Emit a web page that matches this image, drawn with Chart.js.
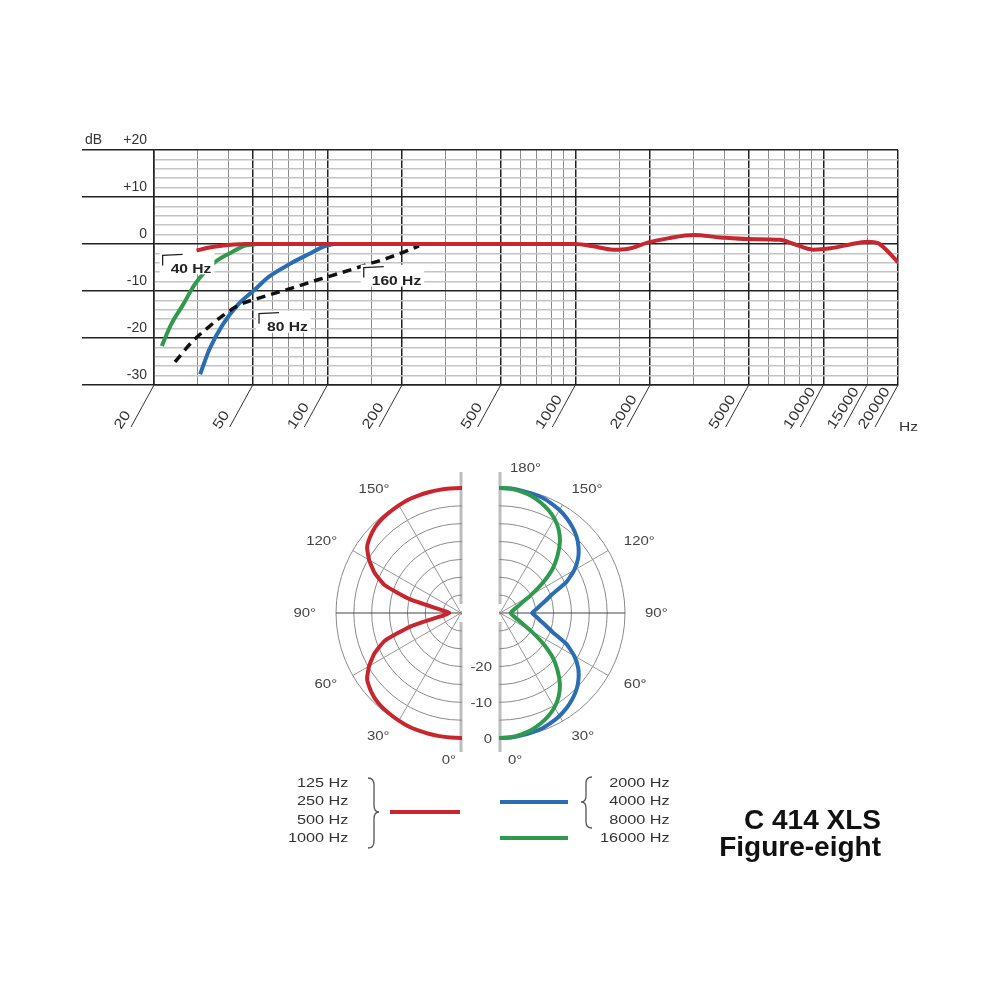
<!DOCTYPE html>
<html>
<head>
<meta charset="utf-8">
<script src="https://cdn.jsdelivr.net/npm/chart.js@4.4.0/dist/chart.umd.min.js"></script>
<style>
  body { margin: 0; background: #fff; width: 1000px; height: 1000px; position: relative; overflow: hidden;
         font-family: "Liberation Sans", Arial, sans-serif; }
  canvas, svg, .txt { position: absolute; }
  .legend { font-size: 13px; line-height: 18.3px; color: #333; white-space: nowrap; }
  .legend.left { text-align: right; transform: scaleX(1.25); transform-origin: right center; }
  .legend.right { text-align: right; transform: scaleX(1.25); transform-origin: right center; }
  .title { font-weight: bold; font-size: 28px; line-height: 27px; color: #111; text-align: right; white-space: nowrap; }
</style>
</head>
<body>
<canvas id="responseChart" width="1000" height="360" style="left:0;top:100px"></canvas>
<canvas id="polarLow" width="400" height="360" style="left:261px;top:433px"></canvas>
<canvas id="polarHigh" width="400" height="360" style="left:300px;top:433px"></canvas>

<svg width="1000" height="1000" style="left:0;top:0;pointer-events:none">
  <path d="M368,778 Q374,778 374,785 L374,805 Q374,812 379,812 Q374,812 374,819 L374,841 Q374,848 368,848" fill="none" stroke="#555" stroke-width="1.3"/>
  <path d="M592,777 Q586,777 586,783 L586,796 Q586,802 581,802 Q586,802 586,808 L586,822 Q586,828 592,828" fill="none" stroke="#555" stroke-width="1.3"/>
  <line x1="390" y1="812" x2="460" y2="812" stroke="#c8262f" stroke-width="4"/>
  <line x1="500" y1="802" x2="568" y2="802" stroke="#2a6db3" stroke-width="4"/>
  <line x1="500" y1="838" x2="568" y2="838" stroke="#2f9a4e" stroke-width="4"/>
</svg>
<div class="txt legend left" style="right:652px;top:774px">125 Hz<br>250 Hz<br>500 Hz<br>1000 Hz</div>
<div class="txt legend right" style="right:330px;top:774px">2000 Hz<br>4000 Hz<br>8000 Hz<br>16000 Hz</div>
<div class="txt title" style="right:119px;top:806px">C 414 XLS<br>Figure-eight</div>

<script>
// frequency response, Hz / dB
const redFreq = [29.7, 33, 37.5, 42, 47, 60, 100, 300, 1000, 1180, 1420, 1620, 1970, 2360, 3000, 3850, 4950, 6700, 7600, 9100, 10700, 12500, 15100, 16600, 18200, 20000];
const redDb = [-1.4, -0.8, -0.35, -0.1, 0, 0, 0, 0, 0, -0.5, -1.2, -1.05, 0.35, 1.2, 1.9, 1.4, 1.05, 0.9, 0, -1.2, -0.9, -0.2, 0.5, 0.2, -1.6, -3.9];
const greenFreq = [21.5, 23.4, 26.2, 29.3, 35, 41, 46.6, 52];
const greenDb = [-21.7, -17.2, -12.9, -8.5, -4, -1.8, -0.35, 0];
const blueFreq = [30.7, 33.4, 37.8, 44, 50.8, 58, 72, 86, 96, 106];
const blueDb = [-27.7, -22.5, -17.2, -12.7, -9.8, -7.0, -4.0, -1.9, -0.6, 0];
const cutFreq = [24.3, 28.5, 33, 38, 44, 53, 64, 77, 93, 114, 140, 177, 213, 234];
const cutDb = [-25.1, -20.8, -17.8, -15.2, -13, -11.5, -10.2, -8.9, -7.5, -6.1, -4.6, -2.9, -1.3, -0.4];

// axis
const gridFreqs = [20, 30, 40, 50, 60, 70, 80, 90, 100, 150, 200, 300, 400, 500, 600, 700, 800, 900, 1000, 1500,
  2000, 3000, 4000, 5000, 6000, 7000, 8000, 9000, 10000, 15000, 20000];
const majorFreqs = [20, 50, 100, 200, 500, 1000, 2000, 5000, 10000, 20000];
const hzLabels = [20, 50, 100, 200, 500, 1000, 2000, 5000, 10000, 15000, 20000];

// polar response, dB at 0..90 degrees (pattern is symmetric about 90)
const polarAngles = [0, 5, 10, 15, 20, 25, 30, 35, 40, 45, 50, 55, 60, 65, 70, 75, 80, 85, 90];
const polarLowBand = [0, 0, 0, 0, 0, 0, -0.2, -0.4, -0.6, -1.0, -1.8, -2.9, -5.3, -8.3, -12.3, -20.3, -28.7, -30.9, -31.7];
const polarMidHigh = [0, 0, -0.2, -0.4, -0.6, -1.1, -1.7, -2.5, -3.5, -4.7, -6.3, -8.3, -11, -14.5, -19.3, -21.8, -23.7, -25, -26];
const polarTop = [0, -0.1, -0.5, -1.1, -2, -3.1, -4.5, -6.4, -8.9, -12.2, -15.8, -20.5, -25, -28.2, -29.8, -30.8, -31.4, -31.8, -32];
const directionLabels = [30, 60, 90, 120, 150];
const ringLabels = [-20, -10, 0];

const RED = '#c8262f', BLUE = '#2a6db3', GREEN = '#2f9a4e';
const FONT = '"Liberation Sans", Arial, sans-serif';
Chart.defaults.font.family = FONT;
Chart.defaults.color = '#333';

const cutoffNotes = [
  { text: '40 Hz', freq: 28.2, db: -5.4 },
  { text: '80 Hz', freq: 69, db: -17.8 },
  { text: '160 Hz', freq: 190, db: -8.0 },
];

function toPoints(xs, ys) {
  return xs.map((f, i) => ({ x: f, y: ys[i] }));
}

function stretchText(ctx, text, x, y, sx, align) {
  ctx.save();
  ctx.translate(x, y);
  ctx.scale(sx, 1);
  ctx.textAlign = align;
  ctx.fillText(text, 0, 0);
  ctx.restore();
}

const responseDecor = {
  id: 'responseDecor',
  afterDatasetsDraw(chart) {
    const { ctx, scales: { x, y } } = chart;
    ctx.save();
    ctx.font = 'bold 13px ' + FONT;
    ctx.textBaseline = 'middle';
    cutoffNotes.forEach(n => {
      const cx = x.getPixelForValue(n.freq), cy = y.getPixelForValue(n.db);
      const w = ctx.measureText(n.text).width * 1.2;
      const left = cx - w / 2, top = cy - 5;
      ctx.fillStyle = '#fff';
      ctx.fillRect(left - 11, top - 12, w + 14, 22);
      ctx.strokeStyle = '#222';
      ctx.lineWidth = 1.3;
      ctx.beginPath();
      ctx.moveTo(left - 8, top + 1);
      ctx.lineTo(left - 8, top - 9);
      ctx.lineTo(left + 12, top - 10);
      ctx.stroke();
      ctx.fillStyle = '#222';
      stretchText(ctx, n.text, left, cy, 1.2, 'left');
    });
    ctx.restore();
  },
  afterDraw(chart) {
    const { ctx, scales: { x, y } } = chart;
    ctx.save();
    ctx.strokeStyle = '#333';
    ctx.fillStyle = '#333';
    ctx.lineWidth = 1;
    ctx.font = '14px ' + FONT;
    ctx.textBaseline = 'alphabetic';
    hzLabels.forEach(f => {
      const px = x.getPixelForValue(f);
      ctx.beginPath();
      ctx.moveTo(px, y.bottom);
      ctx.lineTo(px - 23, y.bottom + 42);
      ctx.stroke();
      ctx.save();
      ctx.translate(px - 33, y.bottom + 45);
      ctx.rotate(-57 * Math.PI / 180);
      ctx.scale(1.2, 1);
      ctx.textAlign = 'left';
      ctx.fillText(String(f), 0, 0);
      ctx.restore();
    });
    ctx.font = '13px ' + FONT;
    stretchText(ctx, 'Hz', x.right + 1, y.bottom + 46, 1.2, 'left');
    ctx.font = '14px ' + FONT;
    ctx.textBaseline = 'middle';
    stretchText(ctx, 'dB', 85, y.getPixelForValue(20) - 10, 1, 'left');
    ctx.restore();
  }
};

new Chart(document.getElementById('responseChart'), {
  type: 'scatter',
  data: {
    datasets: [
      { label: 'Linear', data: toPoints(redFreq, redDb), borderColor: RED, borderWidth: 4 },
      { label: '160 Hz', data: toPoints(cutFreq, cutDb), borderColor: '#111', borderWidth: 3.5, borderDash: [9, 6] },
      { label: '80 Hz', data: toPoints(blueFreq, blueDb), borderColor: BLUE, borderWidth: 4 },
      { label: '40 Hz', data: toPoints(greenFreq, greenDb), borderColor: GREEN, borderWidth: 4 },
    ].map(d => Object.assign(d, { showLine: true, pointRadius: 0, cubicInterpolationMode: 'monotone' })),
  },
  options: {
    responsive: false,
    animation: false,
    layout: { padding: { top: 50, right: 102, left: 0, bottom: 0 } },
    plugins: { legend: { display: false }, tooltip: { enabled: false } },
    scales: {
      x: {
        type: 'logarithmic',
        min: 20,
        max: 20000,
        afterBuildTicks: ax => { ax.ticks = gridFreqs.map(v => ({ value: v })); },
        afterFit: ax => { ax.height = 75; },
        ticks: { display: false, autoSkip: false },
        grid: {
          drawTicks: false,
          color: c => majorFreqs.includes(c.tick.value) ? '#222' : '#8c8c8c',
          lineWidth: c => majorFreqs.includes(c.tick.value) ? 1.5 : 1,
        },
        border: { color: '#222', width: 1.5 },
      },
      y: {
        min: -30,
        max: 20,
        afterFit: ax => { ax.width = 154; },
        ticks: {
          stepSize: 2,
          autoSkip: false,
          labelOffset: -10,
          padding: -65,
          font: { size: 14 },
          color: '#333',
          callback: v => v % 10 === 0 ? (v > 0 ? '+' + v : String(v)) : '',
        },
        grid: {
          tickLength: 72,
          color: c => c.tick.value % 10 === 0 ? '#222' : '#c4c4c4',
          lineWidth: 1.5,
          tickColor: c => c.tick.value % 10 === 0 ? '#222' : 'rgba(0,0,0,0)',
        },
        border: { color: '#222', width: 1.5 },
      },
    },
  },
  plugins: [responseDecor],
});

// polar halves
const stepDeg = 5;
const turnLabels = Array.from({ length: 360 / stepDeg }, (_, i) => Math.abs(180 - i * stepDeg) + '°');

function fullTurn(half) {
  return turnLabels.map((_, i) => {
    let a = Math.abs(180 - i * stepDeg);
    if (a > 90) a = 180 - a;
    return half[polarAngles.indexOf(a)];
  });
}

function polarDecor(side) {
  return {
    id: 'polarDecor',
    beforeDraw(chart) {
      const r = chart.scales.r, ctx = chart.ctx, R = r.drawingArea;
      ctx.save();
      ctx.strokeStyle = '#bdbdbd';
      ctx.lineWidth = 3;
      ctx.beginPath();
      ctx.moveTo(r.xCenter, r.yCenter - R - 16);
      ctx.lineTo(r.xCenter, r.yCenter - 9);
      ctx.moveTo(r.xCenter, r.yCenter + 9);
      ctx.lineTo(r.xCenter, r.yCenter + R + 14);
      ctx.stroke();
      ctx.restore();
      ctx.save();
      ctx.beginPath();
      if (side < 0) ctx.rect(0, 0, r.xCenter + 1, chart.height);
      else ctx.rect(r.xCenter - 1, 0, chart.width - r.xCenter + 1, chart.height);
      ctx.clip();
    },
    afterDatasetsDraw(chart) {
      chart.ctx.restore();
    },
    afterDraw(chart) {
      const r = chart.scales.r, ctx = chart.ctx, R = r.drawingArea;
      ctx.save();
      ctx.fillStyle = '#444';
      ctx.font = '13px ' + FONT;
      ctx.textBaseline = 'middle';
      directionLabels.forEach(a => {
        const idx = side < 0 ? (180 + a) / stepDeg : (180 - a) / stepDeg;
        const p = r.getPointPosition(idx, R + (a === 90 ? 20 : 18));
        stretchText(ctx, a + '°', p.x, p.y, 1.15, side < 0 ? 'right' : 'left');
      });
      if (side < 0) {
        stretchText(ctx, '0°', r.xCenter - 5, r.yCenter + R + 22, 1.15, 'right');
      } else {
        stretchText(ctx, '0°', r.xCenter + 8, r.yCenter + R + 22, 1.15, 'left');
        stretchText(ctx, '180°', r.xCenter + 10, r.yCenter - R - 20, 1.15, 'left');
        ringLabels.forEach(v => {
          const d = r.getDistanceFromCenterForValue(v);
          stretchText(ctx, String(v), r.xCenter - 8, r.yCenter + d + 1, 1.15, 'right');
        });
      }
      ctx.restore();
    },
  };
}

function polarOptions() {
  return {
    responsive: false,
    animation: false,
    layout: { padding: { left: 75, right: 75, top: 55, bottom: 55 } },
    plugins: { legend: { display: false }, tooltip: { enabled: false } },
    elements: { point: { radius: 0 }, line: { borderWidth: 4, tension: 0.15, fill: false } },
    scales: {
      r: {
        min: -35,
        max: 0,
        startAngle: 0,
        ticks: { display: false, stepSize: 5 },
        pointLabels: { display: false },
        grid: { circular: true, color: '#8a8a8a', lineWidth: 1 },
        angleLines: {
          color: c => {
            const a = Math.abs(180 - c.index * stepDeg);
            return a === 90 || a === 270 ? '#444' : '#999';
          },
          lineWidth: c => {
            const a = Math.abs(180 - c.index * stepDeg);
            return a % 30 === 0 && a !== 0 && a !== 180 ? 1 : 0;
          },
        },
      },
    },
  };
}

new Chart(document.getElementById('polarLow'), {
  type: 'radar',
  data: {
    labels: turnLabels,
    datasets: [{ label: '125-1000 Hz', data: fullTurn(polarLowBand), borderColor: RED }],
  },
  options: polarOptions(),
  plugins: [polarDecor(-1)],
});

new Chart(document.getElementById('polarHigh'), {
  type: 'radar',
  data: {
    labels: turnLabels,
    datasets: [
      { label: '16000 Hz', data: fullTurn(polarTop), borderColor: GREEN },
      { label: '2000-8000 Hz', data: fullTurn(polarMidHigh), borderColor: BLUE },
    ],
  },
  options: polarOptions(),
  plugins: [polarDecor(1)],
});
</script>
</body>
</html>
